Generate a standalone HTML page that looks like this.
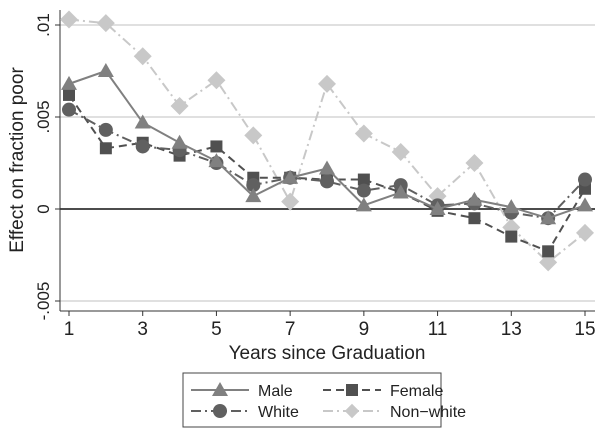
<!DOCTYPE html>
<html><head><meta charset="utf-8"><style>
body{margin:0;background:#fff}
svg{display:block;font-family:"Liberation Sans",sans-serif}
</style></head><body>
<svg id="c" width="607" height="435" viewBox="0 0 607 435"></svg>
<script>
const years=[1,2,3,4,5,6,7,8,9,10,11,12,13,14,15];
const male=[0.0068,0.0075,0.0047,0.0036,0.0026,0.0007,0.0017,0.0022,0.0002,0.0009,0.0000,0.0005,0.0001,-0.0005,0.0002];
const female=[0.0062,0.0033,0.0036,0.0029,0.0034,0.0017,0.0017,0.0016,0.0016,0.0009,-0.0001,-0.0005,-0.0015,-0.0023,0.0011];
const white=[0.0054,0.0043,0.0034,0.0032,0.0025,0.0013,0.0017,0.0015,0.0010,0.0013,0.0002,0.0003,-0.0002,-0.0005,0.0016];
const nonwhite=[0.0103,0.0101,0.0083,0.0056,0.0070,0.0040,0.0004,0.0068,0.0041,0.0031,0.0007,0.0025,-0.0010,-0.0029,-0.0013];
const yTicks=[-0.005,0,0.005,0.01];
const yTickLabels=["-.005","0",".005",".01"];
const xTicks=[1,3,5,7,9,11,13,15];
const NS="http://www.w3.org/2000/svg";
const svg=document.getElementById('c');
const X=v=>69+(v-1)*(585-69)/14;
const Y=v=>209-v*18400;
function mk(t,a,p){const e=document.createElementNS(NS,t);for(const k in a)e.setAttribute(k,a[k]);(p||svg).appendChild(e);return e;}
yTicks.forEach((t,i)=>{
 if(t!==0){const g=mk('line',{x1:60,x2:595,y1:Y(t),y2:Y(t),stroke:'#e0e0e0','stroke-width':2});
 }
 const tk=mk('line',{x1:55,x2:60,y1:Y(t),y2:Y(t),stroke:'#333'});
 
 const tx=mk('text',{x:0,y:0,'font-size':17,'text-anchor':'middle',fill:'#222',transform:`translate(49,${Y(t)}) rotate(-90)`});
 tx.textContent=yTickLabels[i];
 
});
const zl=mk('line',{x1:60,x2:595,y1:Y(0),y2:Y(0),stroke:'#111','stroke-width':1.5});

const ya=mk('line',{x1:60,x2:60,y1:10,y2:311,stroke:'#333'});

const xa=mk('line',{x1:60,x2:595,y1:311,y2:311,stroke:'#333'});

xTicks.forEach(t=>{
 const tk=mk('line',{x1:X(t),x2:X(t),y1:311,y2:316,stroke:'#333'});
 
 const tx=mk('text',{x:X(t),y:335,'font-size':19,'text-anchor':'middle',fill:'#222'});
 tx.textContent=t;
 
});
const xt=mk('text',{x:327,y:359,'font-size':19,'text-anchor':'middle',fill:'#222'});
xt.textContent='Years since Graduation';

const yt=mk('text',{x:0,y:0,'font-size':19,'text-anchor':'middle',fill:'#222',transform:'translate(23,160) rotate(-90)'});
yt.textContent='Effect on fraction poor';

function marker(shape,x,y,col,g){
 if(shape==='tri')return mk('polygon',{points:`${x},${y-8} ${x-8},${y+6} ${x+8},${y+6}`,fill:col},g);
 if(shape==='sq')return mk('rect',{x:x-6,y:y-6,width:12,height:12,fill:col},g);
 if(shape==='circ')return mk('circle',{cx:x,cy:y,r:7,fill:col},g);
 return mk('polygon',{points:`${x},${y-9} ${x+9},${y} ${x},${y+9} ${x-9},${y}`,fill:col},g);
}
const series=[
 {name:'nonwhite',vals:nonwhite,col:'#c8c8c8',dash:'10,4,2,4',shape:'dia'},
 {name:'female',vals:female,col:'#505050',dash:'8,5',shape:'sq'},
 {name:'white',vals:white,col:'#606060',dash:'10,4,2,4',shape:'circ'},
 {name:'male',vals:male,col:'#808080',dash:'',shape:'tri'}
];
series.forEach(s=>{
 const g=mk('g',{});
 
 const l=mk('polyline',{points:years.map((y,i)=>X(y)+','+Y(s.vals[i])).join(' '),fill:'none',stroke:s.col,'stroke-width':2,'stroke-dasharray':s.dash},g);
 
 years.forEach((y,i)=>{const m=marker(s.shape,X(y),Y(s.vals[i]),s.col,g);
  });
});
const lg=mk('g',{});

const lb=mk('rect',{x:183,y:373,width:258,height:54,fill:'#fff',stroke:'#444'},lg);

const ents=[['Male','#808080','','tri',191,390],['Female','#505050','8,5','sq',323,390],['White','#606060','10,4,2,4','circ',191,411],['Non−white','#c8c8c8','10,4,2,4','dia',323,411]];
ents.forEach(e=>{
 const g=mk('g',{},lg);
 
 mk('line',{x1:e[4],x2:e[4]+58,y1:e[5],y2:e[5],stroke:e[1],'stroke-width':2,'stroke-dasharray':e[2]},g);
 const m=marker(e[3],e[4]+29,e[5],e[1],g);
 if(e[3]==='dia'){m.setAttribute('transform',`translate(${e[4]+29},${e[5]}) scale(0.8) translate(${-(e[4]+29)},${-e[5]})`);}
 const t=mk('text',{x:e[4]+67,y:e[5]+6,'font-size':16,fill:'#222'},g);
 t.textContent=e[0];
});
</script>
</body></html>
